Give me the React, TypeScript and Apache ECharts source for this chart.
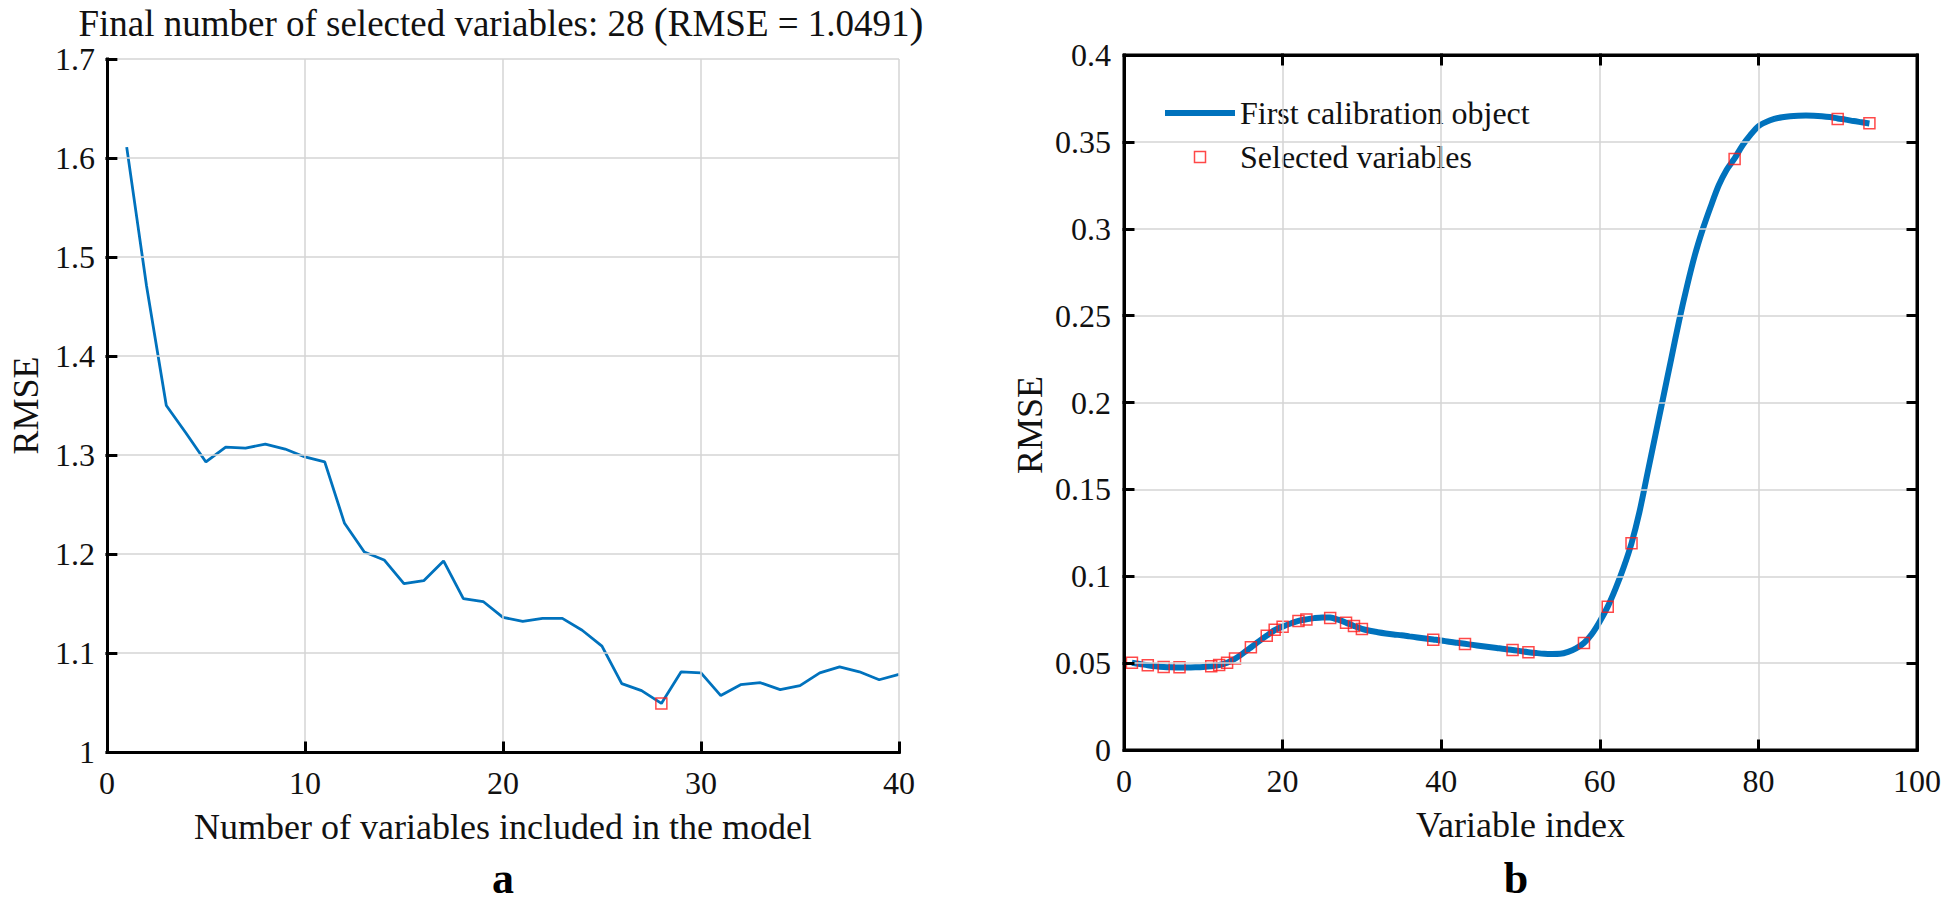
import React, { useEffect, useRef } from "react";
import * as echarts from "echarts";

// ---- Panel a: RMSE vs number of variables ----
const leftCounts = [1, 2, 3, 4, 5, 6, 7, 8, 9, 10, 11, 12, 13, 14, 15, 16, 17, 18, 19, 20, 21, 22, 23, 24, 25, 26, 27, 28, 29, 30, 31, 32, 33, 34, 35, 36, 37, 38, 39, 40];
const leftRmse = [1.611, 1.471, 1.35, 1.322, 1.293, 1.308, 1.307, 1.311, 1.306, 1.298, 1.293, 1.231, 1.202, 1.194, 1.17, 1.173, 1.193, 1.155, 1.152, 1.136, 1.132, 1.135, 1.135, 1.123, 1.107, 1.069, 1.062, 1.0491, 1.081, 1.08, 1.057, 1.068, 1.07, 1.063, 1.067, 1.08, 1.086, 1.081, 1.073, 1.0785];
const finalCount = 28;
const finalRmse = 1.0491;
const leftXGrid = [10, 20, 30, 40];
const leftYGrid = [1.1, 1.2, 1.3, 1.4, 1.5, 1.6, 1.7];

// ---- Panel b: first calibration object and selected variables ----
const varIndex = [1, 2, 3, 4, 5, 6, 7, 8, 9, 10, 11, 12, 13, 14, 15, 16, 17, 18, 19, 20, 21, 22, 23, 24, 25, 26, 27, 28, 29, 30, 31, 32, 33, 34, 35, 36, 37, 38, 39, 40, 41, 42, 43, 44, 45, 46, 47, 48, 49, 50, 51, 52, 53, 54, 55, 56, 57, 58, 59, 60, 61, 62, 63, 64, 65, 66, 67, 68, 69, 70, 71, 72, 73, 74, 75, 76, 77, 78, 79, 80, 81, 82, 83, 84, 85, 86, 87, 88, 89, 90, 91, 92, 93, 94];
const calibCurve = [
  0.0502, 0.0495, 0.0488, 0.0482, 0.0478, 0.0476, 0.0475, 0.0475, 0.0476, 0.0478,
  0.0482, 0.0489, 0.0502, 0.0525, 0.0556, 0.059, 0.0625, 0.0658, 0.069, 0.071,
  0.0728, 0.0743, 0.0752, 0.0759, 0.0763, 0.0762, 0.075, 0.0733, 0.0714, 0.0697,
  0.0686, 0.0678, 0.0671, 0.0665, 0.066, 0.0654, 0.0648, 0.0642, 0.0636, 0.063,
  0.0623, 0.0617, 0.0611, 0.0605, 0.0599, 0.0593, 0.0587, 0.0581, 0.0576, 0.0569,
  0.0563, 0.0558, 0.0554, 0.0553, 0.0554, 0.0565, 0.0585, 0.0616, 0.0668, 0.074,
  0.0825, 0.093, 0.105, 0.119, 0.137, 0.159, 0.181, 0.203, 0.225, 0.247,
  0.267, 0.285, 0.3, 0.313, 0.325, 0.334, 0.3405, 0.348, 0.354, 0.359,
  0.3615, 0.3632, 0.3642, 0.3648, 0.3651, 0.3652, 0.3651, 0.3648, 0.3643, 0.3635,
  0.3628, 0.362, 0.3613, 0.3606,
];
const selectedVars = [1, 3, 5, 7, 11, 12, 13, 14, 16, 18, 19, 20, 22, 23, 26, 28, 29, 30, 39, 43, 49, 51, 58, 61, 64, 77, 90, 94];
const selectedValues = [0.0502, 0.0488, 0.0478, 0.0476, 0.0482, 0.0489, 0.0502, 0.0527, 0.0591, 0.0658, 0.0692, 0.0709, 0.0743, 0.0751, 0.076, 0.0732, 0.0713, 0.0696, 0.0635, 0.061, 0.0576, 0.0563, 0.0616, 0.0825, 0.119, 0.3402, 0.3632, 0.3607];
const rightXGrid = [20, 40, 60, 80];
const rightYGrid = [0.05, 0.1, 0.15, 0.2, 0.25, 0.3, 0.35];

const FONT = '"Liberation Serif", "Times New Roman", serif';
const BLUE = "#0072BD";
const RED = "#ff1a1a";
const GRID_COLOR = "#d4d4d4";
const BLACK = "#000000";
const TICK_PX = 9;

const LEFT_GRID = { left: 104, top: 59, width: 795, height: 693 };
const RIGHT_GRID = { left: 150, top: 55, width: 793, height: 695 };

const labelStyle = { show: true, fontFamily: FONT, fontSize: 32, color: "#111" };
const nameStyle = { fontFamily: FONT, fontSize: 36, color: "#111" };

// light grid lines at the tick values, kept underneath everything
function gridSeries(data: number[][], xs: number[], ys: number[]): any {
  return {
    type: "line",
    data,
    symbol: "none",
    silent: true,
    z: -1,
    lineStyle: { opacity: 0 },
    markLine: {
      silent: true,
      animation: false,
      symbol: ["none", "none"],
      label: { show: false },
      emphasis: { disabled: true },
      lineStyle: { color: GRID_COLOR, width: 1.5, type: "solid" },
      data: [...xs.map((v) => ({ xAxis: v })), ...ys.map((v) => ({ yAxis: v }))],
    },
  };
}

// black axis frame and inward ticks, drawn through the axes' scales
function frameSeries(data: number[][], segments: number[][][]): any {
  return {
    type: "line",
    data,
    symbol: "none",
    silent: true,
    clip: false,
    z: 10,
    lineStyle: { opacity: 0 },
    markLine: {
      silent: true,
      animation: false,
      symbol: ["none", "none"],
      label: { show: false },
      emphasis: { disabled: true },
      lineStyle: { color: BLACK, width: 3, type: "solid", cap: "square" },
      data: segments.map(([a, b]) => [{ coord: a }, { coord: b }]),
    },
  };
}

function leftOption(): any {
  const lineData = leftCounts.map((c, i) => [c, leftRmse[i]]);
  const xMin = 0, xMax = 40, yMin = 1, yMax = 1.7;
  const dy = (TICK_PX / LEFT_GRID.height) * (yMax - yMin);
  const dx = (TICK_PX / LEFT_GRID.width) * (xMax - xMin);
  const segs: number[][][] = [
    [[xMin, yMin], [xMin, yMax]],
    [[xMin, yMin], [xMax, yMin]],
    ...leftXGrid.map((t) => [[t, yMin], [t, yMin + dy]]),
    ...leftYGrid.map((t) => [[xMin, t], [xMin + dx, t]]),
  ];
  return {
    animation: false,
    grid: LEFT_GRID,
    xAxis: {
      type: "value",
      min: xMin,
      max: xMax,
      interval: 10,
      name: "Number of variables included in the model",
      nameLocation: "middle",
      nameGap: 57,
      nameTextStyle: nameStyle,
      axisLine: { show: false },
      axisTick: { show: false },
      axisLabel: { ...labelStyle, margin: 15 },
      splitLine: { show: false },
    },
    yAxis: {
      type: "value",
      min: yMin,
      max: yMax,
      interval: 0.1,
      name: "RMSE",
      nameLocation: "middle",
      nameGap: 61,
      nameTextStyle: nameStyle,
      axisLine: { show: false },
      axisTick: { show: false },
      axisLabel: { ...labelStyle, margin: 12 },
      splitLine: { show: false },
    },
    graphic: [
      {
        type: "text",
        x: 501,
        y: 23,
        style: {
          text: "Final number of selected variables: 28 {p|(}RMSE = 1.0491{p|)}",
          fontFamily: FONT,
          fontSize: 37,
          fill: "#111",
          align: "center",
          verticalAlign: "middle",
          rich: { p: { fontFamily: FONT, fontSize: 42, lineHeight: 36, fill: "#111" } },
        },
      },
      {
        type: "text",
        x: 503,
        y: 878,
        style: { text: "a", fontFamily: FONT, fontSize: 44, fontWeight: "bold", fill: "#000", align: "center", verticalAlign: "middle" },
      },
    ],
    series: [
      gridSeries(lineData, leftXGrid, leftYGrid),
      {
        type: "line",
        data: lineData,
        symbol: "none",
        z: 3,
        lineStyle: { color: BLUE, width: 2.8 },
      },
      {
        type: "scatter",
        data: [[finalCount, finalRmse]],
        symbol: "rect",
        symbolSize: 11,
        z: 4,
        itemStyle: { color: "transparent", borderColor: RED, borderWidth: 1.5 },
      },
      frameSeries(lineData, segs),
    ],
  };
}

function rightOption(): any {
  const curveData = varIndex.map((v, i) => [v, calibCurve[i]]);
  const xMin = 0, xMax = 100, yMin = 0, yMax = 0.4;
  const dy = (TICK_PX / RIGHT_GRID.height) * (yMax - yMin);
  const dx = (TICK_PX / RIGHT_GRID.width) * (xMax - xMin);
  const segs: number[][][] = [
    [[xMin, yMin], [xMin, yMax]],
    [[xMax, yMin], [xMax, yMax]],
    [[xMin, yMin], [xMax, yMin]],
    [[xMin, yMax], [xMax, yMax]],
    ...rightXGrid.map((t) => [[t, yMin], [t, yMin + dy]]),
    ...rightXGrid.map((t) => [[t, yMax], [t, yMax - dy]]),
    ...rightYGrid.map((t) => [[xMin, t], [xMin + dx, t]]),
    ...rightYGrid.map((t) => [[xMax, t], [xMax - dx, t]]),
  ];
  return {
    animation: false,
    grid: { ...RIGHT_GRID, show: true, borderColor: BLACK, borderWidth: 3 },
    xAxis: {
      type: "value",
      min: xMin,
      max: xMax,
      interval: 20,
      name: "Variable index",
      nameLocation: "middle",
      nameGap: 57,
      nameTextStyle: nameStyle,
      axisLine: { show: false },
      axisTick: { show: false },
      axisLabel: { ...labelStyle, margin: 15 },
      splitLine: { show: false },
    },
    yAxis: {
      type: "value",
      min: yMin,
      max: yMax,
      interval: 0.05,
      axisLine: { show: false },
      axisTick: { show: false },
      axisLabel: { ...labelStyle, margin: 13 },
      splitLine: { show: false },
    },
    legend: {
      orient: "vertical",
      left: 186,
      top: 92,
      itemWidth: 70,
      itemHeight: 11,
      itemGap: 12,
      textStyle: { fontFamily: FONT, fontSize: 32, color: "#111" },
      data: [
        {
          name: "First calibration object",
          icon: "path://M0,0 L70,0 L70,6 L0,6 Z",
          itemStyle: { color: BLUE, borderWidth: 0 },
        },
        {
          name: "Selected variables",
          icon: "path://M0,0 L10,0 L10,10 L0,10 Z",
          itemStyle: { color: "transparent", borderColor: RED, borderWidth: 1.5 },
        },
      ],
    },
    graphic: [
      {
        type: "text",
        x: 56,
        y: 425,
        rotation: Math.PI / 2,
        style: { text: "RMSE", fontFamily: FONT, fontSize: 36, fill: "#111", align: "center", verticalAlign: "middle" },
      },
      {
        type: "text",
        x: 542,
        y: 878,
        style: { text: "b", fontFamily: FONT, fontSize: 44, fontWeight: "bold", fill: "#000", align: "center", verticalAlign: "middle" },
      },
    ],
    series: [
      gridSeries(curveData, rightXGrid, rightYGrid),
      {
        name: "First calibration object",
        type: "line",
        data: curveData,
        symbol: "none",
        smooth: 0.3,
        z: 3,
        lineStyle: { color: BLUE, width: 6 },
        itemStyle: { color: BLUE },
      },
      {
        name: "Selected variables",
        type: "scatter",
        data: selectedVars.map((v, i) => [v, selectedValues[i]]),
        symbol: "rect",
        symbolSize: 11,
        z: 4,
        itemStyle: { color: "transparent", borderColor: RED, borderWidth: 1.5 },
      },
      frameSeries(curveData, segs),
    ],
  };
}

export default function App() {
  const leftRef = useRef<HTMLDivElement>(null);
  const rightRef = useRef<HTMLDivElement>(null);
  useEffect(() => {
    if (!leftRef.current || !rightRef.current) return;
    const left = echarts.init(leftRef.current, undefined, { renderer: "svg" });
    const right = echarts.init(rightRef.current, undefined, { renderer: "svg" });
    left.setOption(leftOption());
    right.setOption(rightOption());
    return () => {
      left.dispose();
      right.dispose();
    };
  }, []);
  return (
    <div style={{ position: "fixed", left: 0, top: 0, width: 1948, height: 904, background: "#fff" }}>
      <div ref={leftRef} style={{ position: "absolute", left: 0, top: 0, width: 974, height: 904 }} />
      <div ref={rightRef} style={{ position: "absolute", left: 974, top: 0, width: 974, height: 904 }} />
    </div>
  );
}
